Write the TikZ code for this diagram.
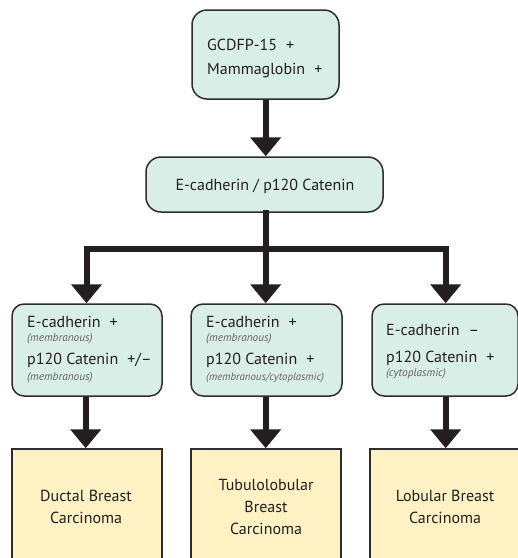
\documentclass[tikz,border=0pt]{standalone}
\usepackage{fontspec}
\setmainfont{PT Sans}
\usetikzlibrary{arrows.meta}
\definecolor{gfill}{HTML}{D9EEE6}
\definecolor{yfill}{HTML}{FEF1C4}
\definecolor{bord}{HTML}{2E2C2C}
\definecolor{ink}{HTML}{231F20}
\tikzset{
  gbox/.style={draw=bord, fill=gfill, line width=1.5pt, rounded corners=12pt, inner sep=0pt},
  ybox/.style={draw=bord, fill=yfill, line width=1.5pt, inner sep=0pt},
  arr/.style={draw=ink, line width=6pt, -{Triangle[width=30pt,length=19pt]}},
  ln/.style={draw=ink, line width=6pt, line cap=rect},
  mtxt/.style={anchor=base west, inner sep=0pt, text=ink, font=\fontsize{16}{19}\selectfont},
  ctxt/.style={anchor=base, inner sep=0pt, text=ink, font=\fontsize{16}{19}\selectfont},
  stxt/.style={anchor=base west, inner sep=0pt, text=ink!70, font=\fontsize{11.3}{13}\selectfont\itshape},
}
\begin{document}
\begin{tikzpicture}[x=1pt,y=-1pt]
\useasboundingbox (0,0) rectangle (518,558);
\clip (0,0) rectangle (518,558);
% boxes
\node[gbox, rounded corners=15pt, minimum width=147pt, minimum height=89pt] (top) at (265.5,54.5) {};
\node[gbox, rounded corners=15pt, minimum width=237pt, minimum height=55pt] (mid) at (264.5,184.5) {};
\node[gbox, minimum width=150pt, minimum height=92pt] (g1) at (87,350) {};
\node[gbox, minimum width=151pt, minimum height=92pt] (g2) at (266.5,350) {};
\node[gbox, minimum width=146pt, minimum height=92pt] (g3) at (445,350) {};
\node[ybox, minimum width=150pt, minimum height=160pt] (y1) at (87,529) {};
\node[ybox, minimum width=150pt, minimum height=160pt] (y2) at (266,529) {};
\node[ybox, minimum width=190pt, minimum height=160pt] (y3) at (465,529) {};
% connectors
\coordinate (j) at (265.7,248.5);
\coordinate (jl) at (86.5,248.5);
\coordinate (jr) at (445.7,248.5);
\draw[arr] (top.south -| j) -- (mid.north -| j);
\draw[ln] (mid.south -| j) -- (j);
\draw[ln] (jl) -- (jr);
\draw[arr] (jl) -- (g1.north -| jl);
\draw[arr] (j) -- (g2.north -| j);
\draw[arr] (jr) -- (g3.north -| jr);
\coordinate (c1) at (85.7,0);
\coordinate (c2) at (265.7,0);
\coordinate (c3) at (445.7,0);
\draw[arr] (g1.south -| c1) -- (y1.north -| c1);
\draw[arr] (g2.south -| c2) -- (y2.north -| c2);
\draw[arr] (g3.south -| c3) -- (y3.north -| c3);
% texts
\node[mtxt] (t1) at (207,50) {GCDFP-15\hspace{0.3em} +};
\node[mtxt] (t2) at (207,74) {Mammaglobin\hspace{0.3em} +};
\node[ctxt] (t3) at (265,190) {E-cadherin / p120 Catenin};
\node[mtxt] (a1) at (27,327) {E-cadherin\hspace{0.3em} +};
\node[stxt] (a2) at (27,341.5) {(membranous)};
\node[mtxt] (a3) at (27,364.5) {p120 Catenin\hspace{0.3em} +/–};
\node[stxt] (a4) at (27,380) {(membranous)};
\node[mtxt] (b1) at (206,327) {E-cadherin\hspace{0.3em} +};
\node[stxt] (b2) at (206,341.5) {(membranous)};
\node[mtxt] (b3) at (206,364.5) {p120 Catenin\hspace{0.3em} +};
\node[stxt, font=\fontsize{10.8}{13}\selectfont\itshape] (b4) at (206,380) {(membranous/cytoplasmic)};
\node[mtxt] (c1t) at (386,335) {E-cadherin\hspace{0.3em} –};
\node[mtxt] (c3t) at (386,362) {p120 Catenin\hspace{0.3em} +};
\node[stxt] (c4t) at (386,376) {(cytoplasmic)};
\node[ctxt] (d1) at (86,501) {Ductal Breast};
\node[ctxt] (d2) at (86,523) {Carcinoma};
\node[ctxt] (e1) at (266,490) {Tubulolobular};
\node[ctxt] (e2) at (266,512) {Breast};
\node[ctxt] (e3) at (266,534) {Carcinoma};
\node[ctxt] (f1) at (445,501) {Lobular Breast};
\node[ctxt] (f2) at (445,523) {Carcinoma};
\end{tikzpicture}
\end{document}
